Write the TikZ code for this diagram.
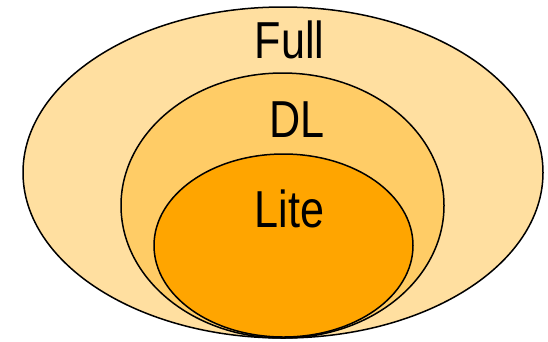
\documentclass[tikz,border=0pt]{standalone}
\usepackage{fontspec}
\setmainfont{Liberation Sans}
\definecolor{fullfill}{HTML}{FFDFA0}
\definecolor{dlfill}{HTML}{FFCC66}
\definecolor{litefill}{HTML}{FFA500}
\begin{document}
\begin{tikzpicture}[x=1pt,y=-1pt,
  ring/.style={draw=black,line width=1.5pt},
  tag/.style={font=\fontsize{52}{52}\selectfont,inner sep=0pt,anchor=base,xscale=0.83,transform shape}]
  \useasboundingbox (0,0) rectangle (548,341);
  % nested language levels
  \path[ring,fill=fullfill] (283,172.5) ellipse [x radius=260,y radius=165.5];
  \path[ring,fill=dlfill] (282.5,205.5) ellipse [x radius=161.5,y radius=132.5];
  \path[ring,fill=litefill] (283.5,245.5) ellipse [x radius=129.5,y radius=91.5];
  % level names
  \node[tag] (full) at (289.5,58) {Full};
  \node[tag] (dl) at (297,137) {DL};
  \node[tag] (lite) at (289.5,227) {Lite};
\end{tikzpicture}
\end{document}
